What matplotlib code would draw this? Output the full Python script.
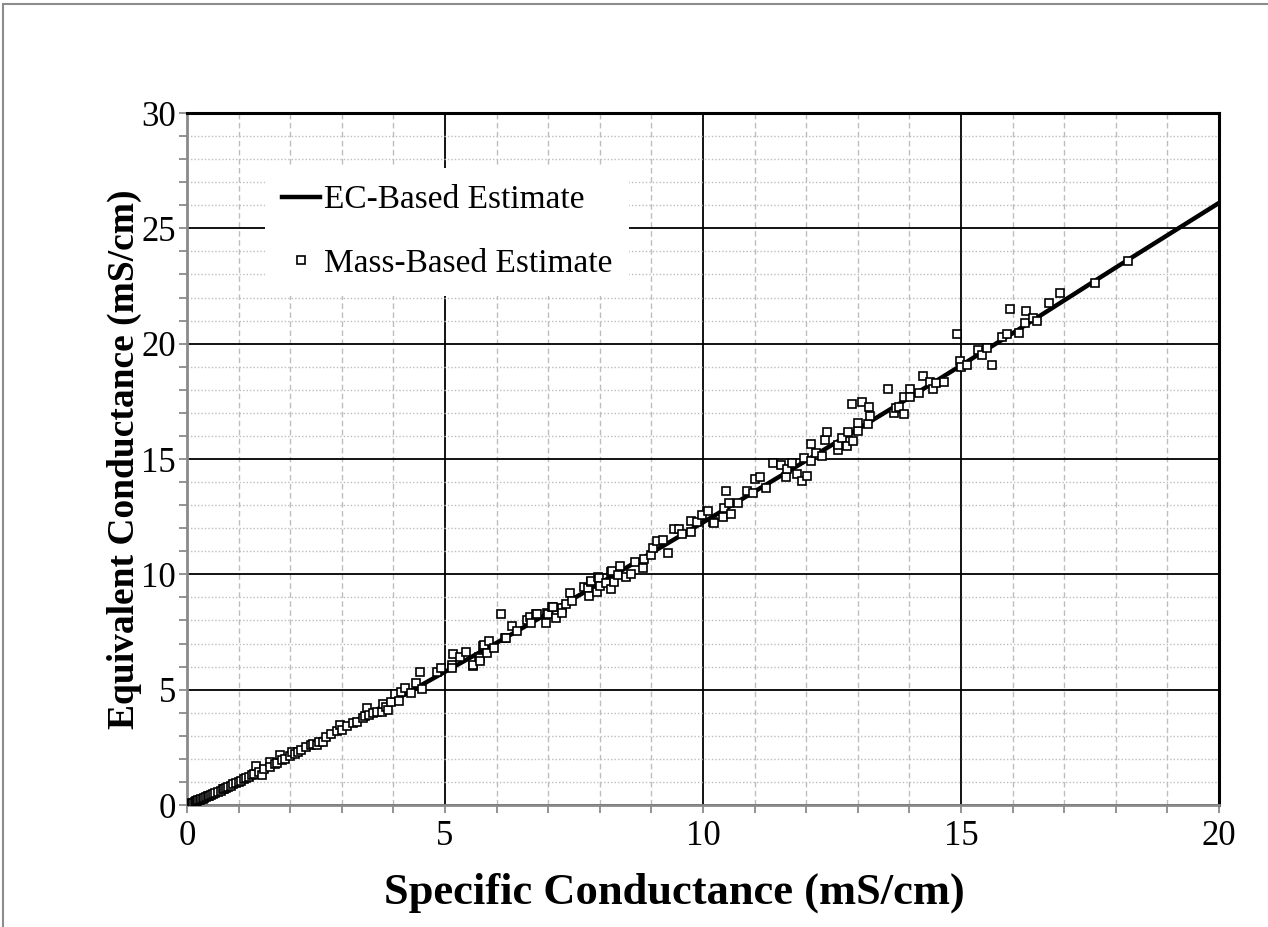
import numpy as np
import matplotlib.pyplot as plt
from matplotlib.ticker import MultipleLocator
from matplotlib.patches import Rectangle

plt.rcParams['font.family'] = ['Liberation Serif', 'DejaVu Serif']

# EC-based estimate (curve)
ec_x = [0, 0.1, 1, 2, 4, 6, 8, 10, 12, 14, 16, 18, 20]
ec_y = [0, 0.08, 1.0, 2.13, 4.52, 7.03, 9.61, 12.25, 14.93, 17.66, 20.45, 23.3, 26.1]

# mass-based estimate (scatter)
mass_x = [0.05, 0.08, 0.1, 0.12, 0.15, 0.18, 0.2, 0.22, 0.25, 0.28, 0.3, 0.33, 0.36, 0.4,
          0.43, 0.47, 0.5, 0.55, 0.6, 0.65, 0.7, 0.72, 0.75, 0.8, 0.85, 0.9, 0.95, 1.0,
          1.05, 1.1, 1.15, 1.2, 1.25, 1.3, 1.33, 1.4, 1.46, 1.5, 1.61, 1.6, 1.7, 1.75,
          1.8, 1.85, 1.9, 2.0, 2.03, 2.1, 2.16, 2.2, 2.3, 2.4, 2.45, 2.51, 2.55, 2.64,
          2.7, 2.8, 2.9, 2.97, 3.0, 3.1, 3.22, 3.3, 3.41, 3.45, 3.48, 3.53, 3.6, 3.68,
          3.77, 3.79, 3.85, 3.9, 3.95, 4.04, 4.1, 4.14, 4.22, 4.34, 4.44, 4.52, 4.55,
          4.84, 4.92, 5.13, 5.14, 5.16, 5.3, 5.41, 5.54, 5.55, 5.66, 5.67, 5.68, 5.74,
          5.76, 5.82, 5.85, 5.94, 6.08, 6.16, 6.18, 6.29, 6.4, 6.58, 6.65, 6.67, 6.76,
          6.78, 6.95, 6.97, 7.0, 7.07, 7.09, 7.15, 7.26, 7.27, 7.34, 7.42, 7.47, 7.7,
          7.78, 7.8, 7.82, 7.82, 7.95, 7.97, 7.99, 8.0, 8.12, 8.21, 8.22, 8.23, 8.28,
          8.36, 8.4, 8.51, 8.6, 8.68, 8.84, 8.86, 9.0, 9.03, 9.1, 9.23, 9.32, 9.44,
          9.53, 9.6, 9.76, 9.77, 9.88, 9.99, 10.1, 10.2, 10.22, 10.39, 10.41, 10.45,
          10.5, 10.55, 10.68, 10.85, 10.96, 11.0, 11.1, 11.23, 11.35, 11.51, 11.61,
          11.62, 11.72, 11.82, 11.91, 11.96, 12.01, 12.09, 12.09, 12.2, 12.3, 12.36,
          12.4, 12.61, 12.62, 12.7, 12.8, 12.82, 12.89, 12.9, 13.0, 13.01, 13.09, 13.2,
          13.22, 13.24, 13.59, 13.71, 13.74, 13.79, 13.9, 13.9, 14.01, 14.01, 14.19,
          14.27, 14.4, 14.45, 14.52, 14.68, 14.92, 14.99, 15.0, 15.11, 15.33, 15.4,
          15.51, 15.61, 15.79, 15.89, 15.95, 16.13, 16.24, 16.26, 16.39, 16.48, 16.71,
          16.92, 17.6, 18.23]
mass_y = [0.04, 0.06, 0.09, 0.1, 0.13, 0.16, 0.17, 0.2, 0.22, 0.25, 0.27, 0.3, 0.33, 0.37,
          0.39, 0.44, 0.47, 0.51, 0.57, 0.62, 0.68, 0.7, 0.73, 0.78, 0.83, 0.89, 0.94, 1.0,
          1.05, 1.12, 1.17, 1.22, 1.28, 1.33, 1.69, 1.44, 1.3, 1.55, 1.88, 1.66, 1.78, 1.84,
          2.17, 1.95, 2.0, 2.13, 2.31, 2.22, 2.31, 2.38, 2.5, 2.6, 2.65, 2.6, 2.74, 2.74,
          2.95, 3.08, 3.2, 3.47, 3.25, 3.42, 3.54, 3.62, 3.76, 3.85, 4.22, 3.9, 4.0, 4.04,
          4.02, 4.36, 4.25, 4.12, 4.45, 4.8, 4.51, 4.89, 5.06, 4.84, 5.27, 5.78, 5.03,
          5.75, 5.92, 6.07, 5.92, 6.53, 6.43, 6.62, 6.03, 6.07, 6.43, 6.36, 6.25, 6.91,
          6.94, 6.58, 7.11, 6.79, 8.28, 7.25, 7.23, 7.77, 7.55, 8.02, 8.16, 7.88, 8.27,
          8.27, 7.9, 8.31, 8.27, 8.6, 8.6, 8.12, 8.53, 8.31, 8.7, 9.18, 8.84, 9.46,
          9.42, 9.06, 9.65, 9.71, 9.25, 9.9, 9.86, 9.49, 9.61, 10.11, 9.35, 10.14, 9.68,
          9.97, 10.36, 9.87, 10.03, 10.55, 10.26, 10.66, 10.84, 11.13, 11.44, 11.49, 10.91, 11.96,
          11.95, 11.73, 11.85, 12.31, 12.28, 12.57, 12.74, 12.28, 12.21, 12.5, 12.86, 13.61,
          13.1, 12.6, 13.08, 13.61, 13.51, 14.13, 14.2, 13.75, 14.84, 14.74, 14.23,
          14.56, 14.81, 14.33, 14.06, 15.03, 14.26, 15.63, 14.93, 15.24, 15.13, 15.82,
          16.18, 15.39, 15.6, 15.89, 15.58, 16.18, 17.38, 15.78, 16.21, 16.54, 17.45, 16.51,
          17.24, 16.88, 18.02, 17.0, 17.22, 17.27, 17.7, 16.95, 18.02, 17.7, 17.87,
          18.6, 18.35, 18.02, 18.28, 18.35, 20.42, 19.25, 19.0, 19.07, 19.72, 19.5,
          19.8, 19.09, 20.3, 20.42, 21.5, 20.48, 20.9, 21.42, 21.12, 20.99, 21.75,
          22.19, 22.64, 23.6]

fig = plt.figure(figsize=(12.68, 9.27), dpi=100)
ax = fig.add_axes([0.1475, 0.1316, 0.8138, 0.7465])

# figure border
fig.patches.append(Rectangle((3 / 1268, -0.01), 1.1, 1 - 4 / 927 + 0.01,
                             transform=fig.transFigure, fill=False,
                             edgecolor='#8c8c8c', linewidth=1.5))

ax.plot(ec_x, ec_y, color='black', lw=3.2, label='EC-Based Estimate', zorder=4)
ax.plot(mass_x, mass_y, ls='none', marker='s', ms=5.5, mfc='white', mec='black',
        mew=1.2, label='Mass-Based Estimate', zorder=5)

ax.set_xlim(0, 20)
ax.set_ylim(0, 30)
ax.xaxis.set_major_locator(MultipleLocator(5))
ax.yaxis.set_major_locator(MultipleLocator(5))
ax.xaxis.set_minor_locator(MultipleLocator(1))
ax.yaxis.set_minor_locator(MultipleLocator(1))

ax.grid(which='major', color='black', lw=1.3, zorder=1)
ax.grid(which='minor', axis='x', color='#bdbdbd', lw=1.0, ls=(0, (4, 2.5)), zorder=0)
ax.grid(which='minor', axis='y', color='#bdbdbd', lw=1.0, ls=(0, (1, 1.5)), zorder=0)
ax.set_axisbelow(True)

for s in ['left', 'bottom']:
    ax.spines[s].set_color('#8a8a8a')
    ax.spines[s].set_linewidth(2)
for s in ['top', 'right']:
    ax.spines[s].set_color('black')
    ax.spines[s].set_linewidth(2.2)

ax.tick_params(which='both', direction='out', color='#8a8a8a', width=1.3,
               labelsize=25, length=6)
ax.tick_params(axis='x', pad=5)
ax.tick_params(axis='y', pad=2)

ax.set_xlabel('Specific Conductance (mS/cm)', fontsize=32, fontweight='bold')
ax.set_ylabel('Equivalent Conductance (mS/cm)', fontsize=27, fontweight='bold')
ax.xaxis.set_label_coords(0.472, -0.097)
ax.yaxis.set_label_coords(-0.044, 0.5)

leg = ax.legend(loc='upper left', bbox_to_anchor=(0.0756, 0.9205), fontsize=24,
                frameon=True, fancybox=False, framealpha=1, edgecolor='none',
                facecolor='white', handlelength=1.15, handletextpad=0.12,
                labelspacing=1.0, borderpad=0.5, borderaxespad=0)

fig.savefig('out.png', dpi=100)
